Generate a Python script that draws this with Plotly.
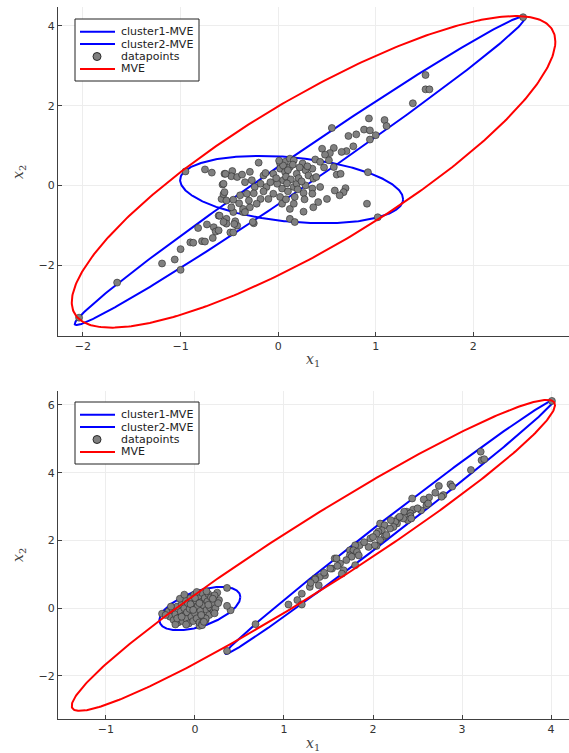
import numpy as np
import plotly.graph_objects as go

# ---------------- data: top panel ----------------
top_x = [-2.04,-1.65,-1.19,-1.06,-1.00,-1.00,-0.90,-0.87,-0.78,-0.75,-0.82,-0.73,-0.66,-0.64,-0.61,-0.67,-0.61,-0.53,-0.53,-0.46,
         -0.49,-0.46,-0.42,-0.44,-0.25,-0.36,-0.58,-0.56,-0.57,-0.53,
         -0.95,-0.75,-0.68,-0.55,-0.47,-0.48,-0.42,-0.37,-0.29,-0.27,-0.20,-0.34,-0.56,-0.55,-0.46,-0.39,-0.32,-0.24,-0.18,-0.12,
         -0.08,-0.15,-0.05,0.02,0.07,0.12,0.02,0.07,0.12,0.05,-0.01,-0.05,-0.10,-0.18,-0.22,-0.29,-0.36,-0.34,-0.60,-0.56,
         -0.45,-0.26,0.02,0.04,0.12,0.12,0.17,0.16,0.17,-0.13,-0.54,
         1.51,1.51,1.55,1.38,0.93,1.09,1.11,0.55,0.80,0.72,0.88,0.94,1.00,0.94,0.77,0.70,0.65,0.57,0.53,0.45,
         0.48,0.52,0.38,0.43,0.47,0.57,0.60,0.64,0.92,0.35,0.28,0.19,0.16,0.25,0.31,0.36,0.39,0.19,0.28,0.35,
         0.43,0.35,0.26,0.58,0.69,0.67,0.63,0.50,0.41,0.36,0.26,0.16,0.91,1.02,2.51,
         0.05,0.10,0.15,0.22,0.08,0.13,0.21,0.04,0.10,0.24,0.30,0.01,0.09,-0.02,0.20,0.27,0.08,-0.15,-0.25,-0.40,
         -0.30,-0.48]
top_y = [-3.32,-2.44,-1.96,-1.86,-1.60,-2.12,-1.43,-1.44,-1.40,-1.41,-1.07,-0.98,-1.05,-1.16,-1.13,-1.32,-0.76,-0.84,-0.96,-0.67,
         -1.18,-1.18,-1.01,-0.90,-0.95,-0.67,-0.34,-0.22,0.02,-0.38,
         0.35,0.40,0.32,0.29,0.36,0.23,0.21,0.27,0.34,0.13,0.57,0.08,0.04,-0.17,-0.36,-0.25,-0.21,-0.04,0.04,-0.04,
         0.08,0.25,0.29,0.55,0.59,0.67,0.42,0.34,0.46,0.13,0.04,-0.21,-0.34,-0.34,-0.46,-0.55,-0.59,-0.67,-0.76,-0.92,
         -0.97,-0.92,-0.29,-0.46,-0.59,-0.84,-0.92,-0.04,-0.29,0.31,0.29,
         2.77,2.41,2.41,2.06,1.68,1.64,1.49,1.44,1.28,1.24,1.40,1.38,1.26,1.15,0.98,0.86,0.84,0.94,0.81,0.92,
         0.77,0.63,0.65,0.59,0.45,0.46,0.27,0.29,0.33,0.42,0.38,0.29,0.63,0.55,0.25,0.17,0.21,0.04,0.00,-0.08,
         -0.04,-0.21,-0.19,-0.13,-0.07,-0.17,-0.25,-0.34,-0.42,-0.55,-0.66,-0.46,-0.46,-0.80,4.22,
         0.50,0.38,0.52,0.45,0.22,0.15,0.18,-0.08,-0.15,0.10,0.48,0.62,0.05,0.18,-0.10,-0.35,-0.35,-0.15,-0.20,-0.45,
         -0.38,-0.55]

# ellipse parameters: centre and shape matrix P = [[p11, p12], [p12, p22]]
top_c1_center = [0.225, 0.37];  top_c1_P = [5.336, 8.885, 15.02]
top_c2_center = [0.1375, -0.105]; top_c2_P = [1.305, -0.274, 0.714]
top_mve_center = [0.3625, 0.34]; top_mve_P = [6.138, 8.10, 15.29]

# ---------------- data: bottom panel ----------------
bot_x = [4.01,3.21,3.22,3.25,3.10,2.87,2.89,2.74,2.70,2.79,2.77,2.63,2.57,2.60,2.44,2.62,2.54,2.45,2.38,2.35,
         2.42,2.42,2.39,2.34,2.43,2.28,2.27,2.25,2.23,2.08,2.13,2.19,2.10,2.06,2.04,2.13,2.15,2.08,1.97,2.04,
         2.02,1.95,1.85,1.80,1.74,1.78,1.82,1.84,1.74,1.76,1.80,1.70,1.63,1.57,1.59,1.67,1.65,1.54,1.52,1.46,
         1.40,1.35,1.35,1.39,1.29,1.20,1.15,1.20,1.05,0.68,0.36,2.00,1.90,2.20,2.50,1.60,1.45,1.30,2.30,
         -0.37,0.36,0.40,0.36,0.25,0.27,0.05,
         -0.30,-0.28,-0.25,-0.24,-0.22,-0.20,-0.19,-0.18,-0.16,-0.15,-0.14,-0.13,-0.12,-0.11,-0.10,-0.09,-0.08,-0.07,-0.06,-0.05,
         -0.04,-0.03,-0.02,-0.01,0.00,0.01,0.02,0.03,0.04,0.05,0.06,0.07,0.08,0.09,0.10,0.11,0.12,0.13,0.14,0.15,
         0.16,0.17,0.18,0.12,0.20,0.21,0.22,0.23,0.22,0.08,-0.22,-0.27,0.08,-0.17,0.02,0.13,0.26,-0.33,-0.10,0.00,
         -0.05,0.10,0.15,-0.20,0.05,-0.12,0.20,-0.02,0.07,-0.15]
bot_y = [6.12,4.62,4.37,4.40,4.08,3.66,3.59,3.61,3.41,3.34,3.29,3.27,3.21,3.04,3.24,3.09,2.89,2.91,2.85,2.85,
         2.80,2.72,2.60,2.65,2.65,2.65,2.50,2.55,2.40,2.50,2.45,2.35,2.30,2.26,2.20,2.12,2.16,2.01,2.06,1.84,
         1.86,1.81,1.86,1.86,1.71,1.71,1.66,1.56,1.56,1.52,1.27,1.42,1.32,1.47,1.47,1.12,1.02,1.17,1.17,0.97,
         0.92,0.88,0.85,0.68,0.63,0.43,0.24,0.11,0.11,-0.47,-1.26,2.10,1.95,2.60,2.95,1.25,1.05,0.75,2.70,
         -0.16,0.60,-0.06,0.07,0.46,0.24,-0.52,
         -0.10,-0.25,-0.05,-0.35,-0.18,0.05,-0.42,-0.28,-0.10,0.12,-0.38,-0.22,0.00,0.25,-0.30,-0.12,0.15,-0.45,-0.02,0.30,
         -0.25,0.10,-0.38,0.40,-0.15,0.22,-0.30,0.05,0.35,-0.42,-0.08,0.18,0.45,-0.25,0.08,0.30,-0.35,-0.05,0.20,0.42,
         -0.20,0.02,0.32,-0.30,0.12,-0.10,0.38,0.00,-0.15,-0.45,-0.48,0.05,-0.50,0.28,0.48,0.50,0.15,-0.20,-0.48,0.30,
         0.12,-0.40,0.10,-0.30,0.15,0.40,0.28,-0.05,-0.20,-0.25]

bot_c1_center = [2.185, 2.395]; bot_c1_P = [3.404, 6.885, 14.03]
bot_c2_center = [0.055, -0.01]; bot_c2_P = [0.207, 0.155, 0.41]
bot_mve_center = [1.33, 1.56];  bot_mve_P = [7.37, 12.05, 21.07]

names = ["cluster1-MVE", "cluster2-MVE", "datapoints", "MVE"]
legend_colors = ["#0000ff", "#0000ff", "#808080", "#ff0000"]

W, H = 569, 753
ML, MR, MT, MB = 58, 0, 7, 34
PW, PH = W - ML - MR, H - MT - MB


def px2paper(px, py):
    return (px - ML) / PW, (H - MB - py) / PH


def ellipse(center, p):
    P = np.array([[p[0], p[1]], [p[1], p[2]]])
    L = np.linalg.cholesky(P)
    t = np.linspace(0, 2 * np.pi, 400)
    pts = L @ np.vstack([np.cos(t), np.sin(t)])
    return center[0] + pts[0], center[1] + pts[1]


fig = go.Figure()

panels = [
    ("x", "y", top_c1_center, top_c1_P, top_c2_center, top_c2_P, top_x, top_y, top_mve_center, top_mve_P),
    ("x2", "y2", bot_c1_center, bot_c1_P, bot_c2_center, bot_c2_P, bot_x, bot_y, bot_mve_center, bot_mve_P),
]
for xa, ya, c1c, c1p, c2c, c2p, px, py, mc, mp in panels:
    ex, ey = ellipse(c1c, c1p)
    fig.add_trace(go.Scatter(x=ex, y=ey, mode="lines", name=names[0], line=dict(color="#0000ff", width=2),
                             xaxis=xa, yaxis=ya, showlegend=False))
    ex, ey = ellipse(c2c, c2p)
    fig.add_trace(go.Scatter(x=ex, y=ey, mode="lines", name=names[1], line=dict(color="#0000ff", width=2),
                             xaxis=xa, yaxis=ya, showlegend=False))
    fig.add_trace(go.Scatter(x=px, y=py, mode="markers", name=names[2],
                             marker=dict(color="#808080", size=7, line=dict(color="#2a2a2a", width=0.6)),
                             xaxis=xa, yaxis=ya, showlegend=False))
    ex, ey = ellipse(mc, mp)
    fig.add_trace(go.Scatter(x=ex, y=ey, mode="lines", name=names[3], line=dict(color="#ff0000", width=2),
                             xaxis=xa, yaxis=ya, showlegend=False))

axis_common = dict(showgrid=True, gridcolor="#ededed", gridwidth=1, zeroline=False,
                   showline=True, linecolor="#404040", linewidth=1, ticks="inside", ticklen=4,
                   tickcolor="#404040", tickfont=dict(family="DejaVu Sans", size=11, color="#333333"),
                   mirror=False)

fig.update_layout(
    width=W, height=H,
    margin=dict(l=ML, r=MR, t=MT, b=MB),
    plot_bgcolor="white", paper_bgcolor="white",
    showlegend=False,
    xaxis=dict(domain=[0, 1], anchor="y", range=[-2.256, 2.98], tickvals=[-2, -1, 0, 1, 2], **axis_common),
    yaxis=dict(domain=[0.5379, 1], anchor="x", range=[-3.78, 4.476], tickvals=[-2, 0, 2, 4], **axis_common),
    xaxis2=dict(domain=[0, 1], anchor="y2", range=[-1.539, 4.202], tickvals=[-1, 0, 1, 2, 3, 4], **axis_common),
    yaxis2=dict(domain=[0, 0.4607], anchor="x2", range=[-3.27, 6.413], tickvals=[-2, 0, 2, 4, 6], **axis_common),
)

# legend boxes drawn in the Plots.jl style (tight item spacing)
shapes = []
annos = []
for box_top in (19, 402):
    x0, y1 = px2paper(75, box_top)
    x1, y0 = px2paper(199, box_top + 62)
    shapes.append(dict(type="rect", xref="paper", yref="paper", x0=x0, x1=x1, y0=y0, y1=y1,
                       line=dict(color="#222222", width=1), fillcolor="white", layer="above"))
    for i, (nm, col) in enumerate(zip(names, legend_colors)):
        cy = box_top + 12.7 + i * 12.4
        if nm == "datapoints":
            a0, b1 = px2paper(93, cy - 4)
            a1, b0 = px2paper(101, cy + 4)
            shapes.append(dict(type="circle", xref="paper", yref="paper", x0=a0, x1=a1, y0=b0, y1=b1,
                               fillcolor=col, line=dict(color="#2a2a2a", width=1), layer="above"))
        else:
            a0, b = px2paper(80, cy)
            a1, _ = px2paper(115, cy)
            shapes.append(dict(type="line", xref="paper", yref="paper", x0=a0, x1=a1, y0=b, y1=b,
                               line=dict(color=col, width=2), layer="above"))
        tx, ty = px2paper(119, cy)
        annos.append(dict(text=nm, x=tx, y=ty, xanchor="left", yanchor="middle", showarrow=False,
                          xref="paper", yref="paper",
                          font=dict(family="DejaVu Sans", size=11, color="#222222")))

lab_font = dict(family="DejaVu Serif", size=14, color="#444444")
for text, (lx, ly), ang in [
    ("<i>x</i><sub>1</sub>", px2paper(313, 360), 0),
    ("<i>x</i><sub>1</sub>", px2paper(313, 744), 0),
    ("<i>x</i><sub>2</sub>", px2paper(19, 172), -90),
    ("<i>x</i><sub>2</sub>", px2paper(19, 555), -90),
]:
    annos.append(dict(text=text, x=lx, y=ly, textangle=ang, xref="paper", yref="paper", showarrow=False,
                      xanchor="center", yanchor="middle", font=lab_font))

fig.update_layout(shapes=shapes, annotations=annos)

fig.write_html("out.html", config={"displayModeBar": False},
               post_script="document.body.style.margin='0';document.body.style.padding='0';")
